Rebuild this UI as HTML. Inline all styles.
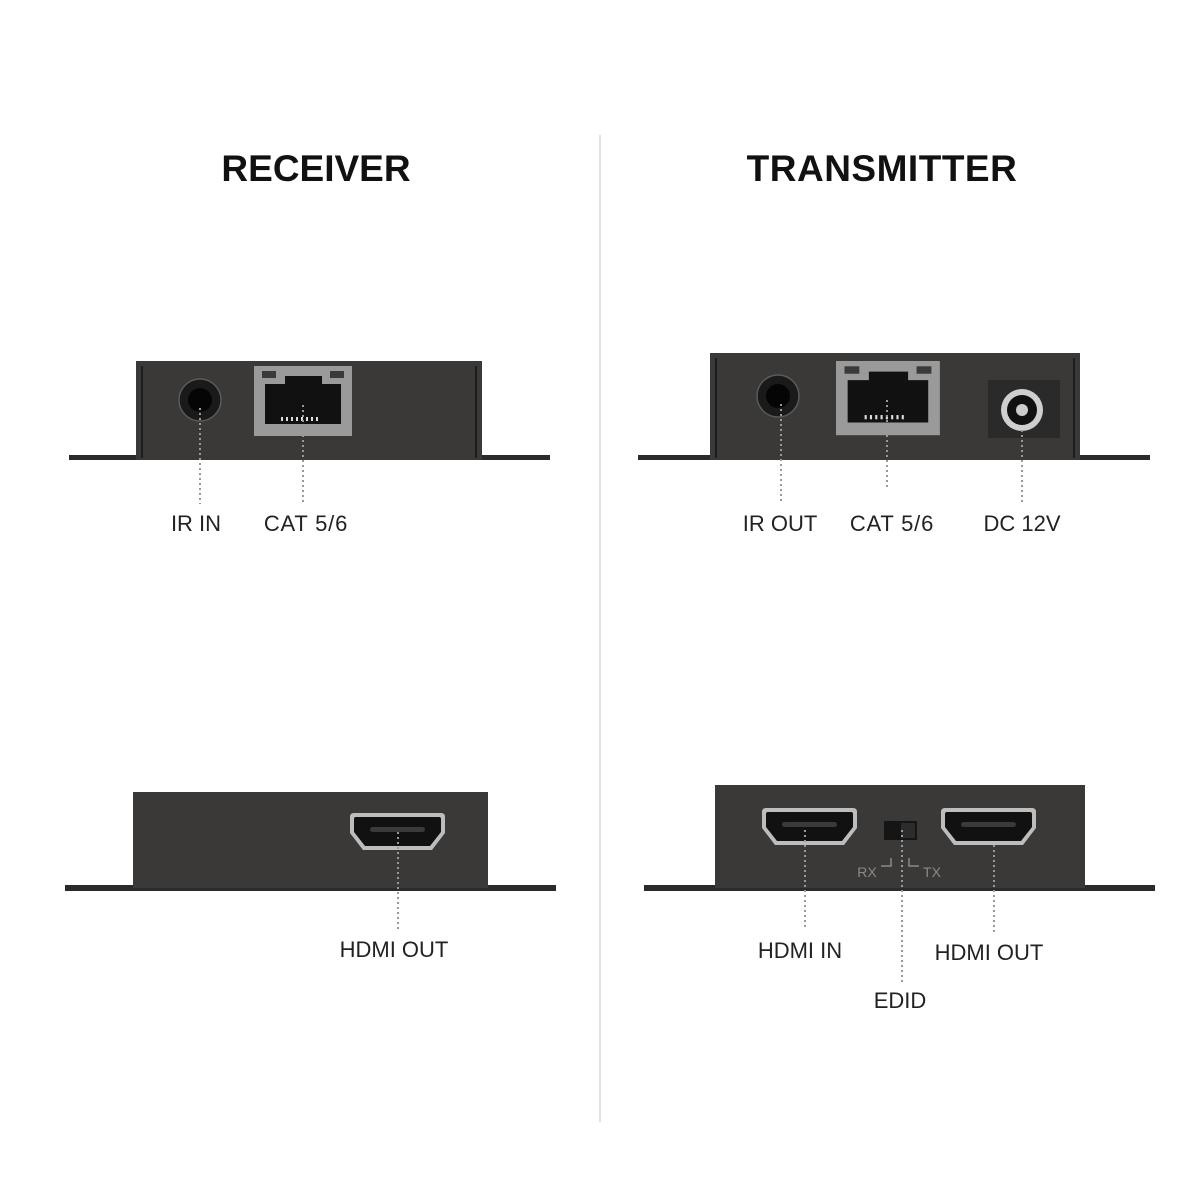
<!DOCTYPE html>
<html><head><style>
html,body{margin:0;padding:0;background:#fff;}
svg{display:block;}
text{font-family:"Liberation Sans",sans-serif;}
</style></head><body>
<svg width="1200" height="1200" viewBox="0 0 1200 1200" xmlns="http://www.w3.org/2000/svg">
<defs>
<g id="hdmi">
<path d="M0,4 Q0,0 4,0 L91,0 Q95,0 95,4 L95,20 L82,37 L13,37 L0,20 Z" fill="#bdbdbd"/>
<path d="M4,6 Q4,4 6,4 L89,4 Q91,4 91,6 L91,19 L80,33 L15,33 L4,19 Z" fill="#111"/>
<rect x="20" y="14" width="55" height="5" rx="2.5" fill="#3a3a3a"/>
</g>
<g id="rj">
<rect x="0" y="0" width="98" height="70" fill="#9a9a9a"/>
<rect x="8" y="5" width="14" height="7" fill="#3a3a3a"/>
<rect x="76" y="5" width="14" height="7" fill="#3a3a3a"/>
<path d="M11,18 L31,18 L31,10 L68,10 L68,18 L87,18 L87,58 L11,58 Z" fill="#111"/>
<g fill="#ddd"><rect x="27" y="51" width="2" height="4"/><rect x="32" y="51" width="2" height="4"/><rect x="37" y="51" width="2" height="4"/><rect x="42" y="51" width="2" height="4"/><rect x="47" y="51" width="2" height="4"/><rect x="52" y="51" width="2" height="4"/><rect x="57" y="51" width="2" height="4"/><rect x="62" y="51" width="2" height="4"/></g>
</g>
</defs>
<line x1="600" y1="135" x2="600" y2="1122" stroke="#e2e2e2" stroke-width="2"/>
<text x="316" y="181" font-size="37" font-weight="bold" text-anchor="middle" fill="#111">RECEIVER</text>
<text x="882" y="181" font-size="37" font-weight="bold" text-anchor="middle" fill="#111" letter-spacing="0.5">TRANSMITTER</text>

<!-- Receiver top -->
<rect x="69" y="455" width="481" height="5" fill="#2b2b2b"/>
<rect x="136" y="361" width="346" height="99" fill="#3a3938"/>
<line x1="142" y1="366" x2="142" y2="458" stroke="#1d1d1d" stroke-width="2"/>
<line x1="476" y1="366" x2="476" y2="458" stroke="#1d1d1d" stroke-width="2"/>
<circle cx="200" cy="400" r="21" fill="#1a1a1a" stroke="#5a5a5a" stroke-width="1.5"/>
<circle cx="200" cy="400" r="12" fill="#050505"/>
<use href="#rj" x="254" y="366"/>
<g stroke="#999" stroke-width="2" stroke-dasharray="2 3">
<line x1="200" y1="408" x2="200" y2="504"/>
<line x1="303" y1="405" x2="303" y2="504"/>
</g>
<text x="196" y="531" font-size="22" text-anchor="middle" fill="#222">IR IN</text>
<text x="306" y="531" font-size="22" text-anchor="middle" fill="#222" letter-spacing="0.8">CAT 5/6</text>

<!-- Transmitter top -->
<rect x="638" y="455" width="512" height="5" fill="#2b2b2b"/>
<rect x="710" y="353" width="370" height="107" fill="#3a3938"/>
<line x1="716" y1="358" x2="716" y2="458" stroke="#1d1d1d" stroke-width="2"/>
<line x1="1074" y1="358" x2="1074" y2="458" stroke="#1d1d1d" stroke-width="2"/>
<circle cx="778" cy="396" r="21" fill="#1a1a1a" stroke="#5a5a5a" stroke-width="1.5"/>
<circle cx="778" cy="396" r="12" fill="#050505"/>
<use href="#rj" x="836" y="361" transform="translate(836 361) scale(1.06 1.06) translate(-836 -361)"/>
<rect x="988" y="380" width="72" height="58" fill="#2a2a2a"/>
<circle cx="1022" cy="410" r="21" fill="#cfcfcf"/>
<circle cx="1022" cy="410" r="15" fill="#111"/>
<circle cx="1022" cy="410" r="6" fill="#ccc"/>
<g stroke="#999" stroke-width="2" stroke-dasharray="2 3">
<line x1="781" y1="404" x2="781" y2="504"/>
<line x1="887" y1="400" x2="887" y2="490"/>
<line x1="1022" y1="430" x2="1022" y2="504"/>
</g>
<text x="780" y="531" font-size="22" text-anchor="middle" fill="#222">IR OUT</text>
<text x="892" y="531" font-size="22" text-anchor="middle" fill="#222" letter-spacing="0.8">CAT 5/6</text>
<text x="1022" y="531" font-size="22" text-anchor="middle" fill="#222">DC 12V</text>

<!-- Receiver bottom -->
<rect x="65" y="885" width="491" height="6" fill="#2b2b2b"/>
<rect x="133" y="792" width="355" height="96" fill="#3a3938"/>
<use href="#hdmi" x="350" y="813"/>
<line x1="398" y1="832" x2="398" y2="930" stroke="#999" stroke-width="2" stroke-dasharray="2 3"/>
<text x="394" y="957" font-size="22" text-anchor="middle" fill="#222">HDMI OUT</text>

<!-- Transmitter bottom -->
<rect x="644" y="885" width="511" height="6" fill="#2b2b2b"/>
<rect x="715" y="785" width="370" height="103" fill="#3a3938"/>
<use href="#hdmi" x="762" y="808"/>
<use href="#hdmi" x="941" y="808"/>
<rect x="884" y="821" width="33" height="19" fill="#151515"/>
<rect x="901" y="823" width="14" height="15" fill="#2c2c2c"/>
<text x="867" y="877" font-size="14" text-anchor="middle" fill="#8a8a8a">RX</text>
<path d="M881,866 L891,866 L891,858" stroke="#8a8a8a" stroke-width="1.5" fill="none"/>
<path d="M909,858 L909,866 L919,866" stroke="#8a8a8a" stroke-width="1.5" fill="none"/>
<text x="932" y="877" font-size="14" text-anchor="middle" fill="#8a8a8a">TX</text>
<g stroke="#999" stroke-width="2" stroke-dasharray="2 3">
<line x1="805" y1="830" x2="805" y2="930"/>
<line x1="902" y1="830" x2="902" y2="982"/>
<line x1="994" y1="845" x2="994" y2="932"/>
</g>
<text x="800" y="958" font-size="22" text-anchor="middle" fill="#222">HDMI IN</text>
<text x="989" y="960" font-size="22" text-anchor="middle" fill="#222">HDMI OUT</text>
<text x="900" y="1008" font-size="22" text-anchor="middle" fill="#222">EDID</text>
</svg>
</body></html>
